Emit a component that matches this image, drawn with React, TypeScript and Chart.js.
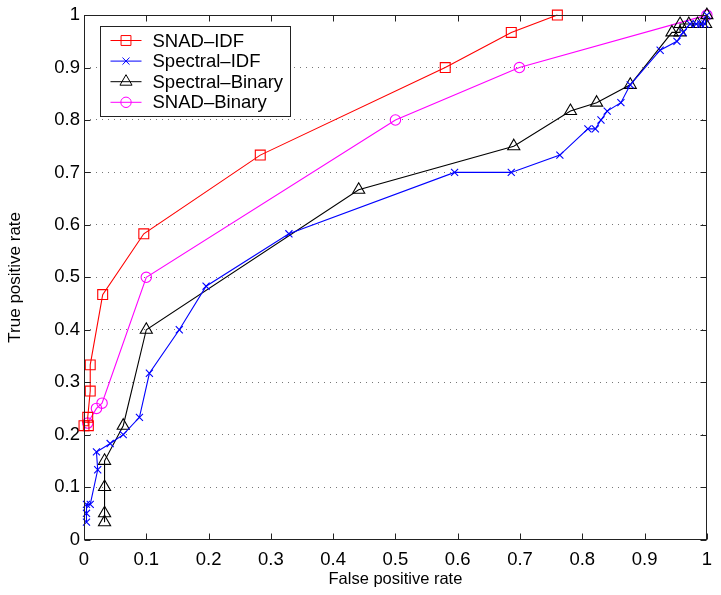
import React, { useEffect, useRef } from "react";
import { Chart, registerables } from "chart.js";
import { drawPoint } from "chart.js/helpers";

Chart.register(...registerables);

const seriesLabels = ["SNAD–IDF", "Spectral–IDF", "Spectral–Binary", "SNAD–Binary"];
const seriesColors = ["#ff0000", "#0000ff", "#000000", "#ff00ff"];
const seriesMarkers = ["rect", "crossRot", "triangle", "circle"];
const markerRadius = [7, 5, 7, 5.2];

const snadIdfX = [0, 0.007, 0.006, 0.01, 0.01, 0.03, 0.096, 0.283, 0.58, 0.686, 0.76];
const snadIdfY = [0.217, 0.217, 0.233, 0.283, 0.333, 0.467, 0.583, 0.733, 0.9, 0.967, 1.0];

const spectralIdfX = [0.004, 0.004, 0.004, 0.01, 0.022, 0.02, 0.042, 0.063, 0.089, 0.105, 0.153, 0.196, 0.329, 0.595, 0.686, 0.764, 0.809, 0.821, 0.83, 0.84, 0.862, 0.877, 0.925, 0.952, 0.962, 0.973, 0.983, 0.99, 0.997, 1];
const spectralIdfY = [0.033, 0.05, 0.067, 0.067, 0.133, 0.167, 0.183, 0.2, 0.233, 0.317, 0.4, 0.483, 0.583, 0.7, 0.7, 0.733, 0.783, 0.783, 0.8, 0.817, 0.833, 0.867, 0.933, 0.95, 0.967, 0.983, 0.983, 0.983, 0.983, 1];

const spectralBinX = [0.033, 0.033, 0.033, 0.033, 0.063, 0.1, 0.441, 0.69, 0.781, 0.823, 0.877, 0.944, 0.957, 0.957, 0.971, 0.985, 0.998, 1];
const spectralBinY = [0.033, 0.05, 0.1, 0.15, 0.217, 0.4, 0.667, 0.75, 0.817, 0.833, 0.867, 0.967, 0.967, 0.983, 0.983, 0.983, 0.983, 1];

const snadBinX = [0.006, 0.02, 0.029, 0.1, 0.5, 0.699, 1];
const snadBinY = [0.222, 0.25, 0.26, 0.5, 0.8, 0.9, 1];

const tickValues = [0, 0.1, 0.2, 0.3, 0.4, 0.5, 0.6, 0.7, 0.8, 0.9, 1];
const tickLabels = ["0", "0.1", "0.2", "0.3", "0.4", "0.5", "0.6", "0.7", "0.8", "0.9", "1"];

const xTitle = "False positive rate";
const yTitle = "True positive rate";

const FONT = "'Liberation Sans', Arial, Helvetica, sans-serif";

const allX = [snadIdfX, spectralIdfX, spectralBinX, snadBinX];
const allY = [snadIdfY, spectralIdfY, spectralBinY, snadBinY];

const framePlugin = {
  id: "matlabFrame",
  afterDatasetsDraw(chart: any) {
    const ctx = chart.ctx as CanvasRenderingContext2D;
    const ca = chart.chartArea;
    const xs = chart.scales.x;
    const ys = chart.scales.y;
    ctx.save();
    const L = Math.round(ca.left) + 0.5;
    const R = Math.round(ca.right) - 0.5;
    const T = Math.round(ca.top) + 0.5;
    const B = Math.round(ca.bottom) - 0.5;
    ctx.strokeStyle = "#222";
    ctx.lineWidth = 1;
    ctx.setLineDash([]);
    ctx.strokeRect(L, T, R - L, B - T);
    const tl = 6;
    ctx.beginPath();
    tickValues.forEach((v) => {
      const px = Math.round(xs.getPixelForValue(v)) + 0.5;
      ctx.moveTo(px, B);
      ctx.lineTo(px, B - tl);
      ctx.moveTo(px, T);
      ctx.lineTo(px, T + tl);
      const py = Math.round(ys.getPixelForValue(v)) + 0.5;
      ctx.moveTo(L, py);
      ctx.lineTo(L + tl, py);
      ctx.moveTo(R, py);
      ctx.lineTo(R - tl, py);
    });
    ctx.stroke();

    // legend
    const lx = Math.round(ca.left + 15.5) + 0.5;
    const ly = Math.round(ca.top + 11) + 0.5;
    const lw = 190;
    const lh = 90;
    ctx.fillStyle = "#fff";
    ctx.fillRect(lx, ly, lw, lh);
    ctx.strokeStyle = "#222";
    ctx.strokeRect(lx, ly, lw, lh);
    ctx.font = `18.5px ${FONT}`;
    ctx.textBaseline = "middle";
    ctx.textAlign = "left";
    seriesLabels.forEach((label, i) => {
      const cy = ly + 14 + i * 20.6;
      ctx.strokeStyle = seriesColors[i];
      ctx.lineWidth = 1;
      ctx.beginPath();
      ctx.moveTo(lx + 10, cy);
      ctx.lineTo(lx + 41, cy);
      ctx.stroke();
      ctx.fillStyle = "rgba(0,0,0,0)";
      drawPoint(ctx, { pointStyle: seriesMarkers[i], radius: markerRadius[i], rotation: 0, borderWidth: 1 } as any, lx + 25.5, cy);
      ctx.fillStyle = "#000";
      ctx.fillText(label, lx + 52, cy + 1);
    });
    ctx.restore();
  },
};

export default function App() {
  const ref = useRef<HTMLCanvasElement | null>(null);
  useEffect(() => {
    if (!ref.current) return;
    const datasets = seriesLabels.map((label, i) => ({
      label,
      data: allX[i].map((x, j) => ({ x, y: allY[i][j] })),
      borderColor: seriesColors[i],
      backgroundColor: "rgba(0,0,0,0)",
      borderWidth: 1.1,
      pointStyle: seriesMarkers[i],
      pointRadius: markerRadius[i],
      pointBorderWidth: 1.1,
      pointBorderColor: seriesColors[i],
      pointBackgroundColor: "rgba(0,0,0,0)",
      tension: 0,
      fill: false,
      clip: false as any,
    }));
    const chart = new Chart(ref.current, {
      type: "line",
      data: { datasets },
      options: {
        responsive: false,
        animation: false,
        devicePixelRatio: 1,
        layout: { padding: { left: 5.5, right: 12.5, top: 13.5, bottom: 6 } },
        plugins: { legend: { display: false }, tooltip: { enabled: false } },
        scales: {
          x: {
            type: "linear",
            min: 0,
            max: 1,
            afterBuildTicks: (s: any) => {
              s.ticks = tickValues.map((v) => ({ value: v }));
            },
            afterFit: (s: any) => {
              s.height = 49.5;
            },
            ticks: {
              callback: (_v: any, i: number) => tickLabels[i],
              padding: 9,
              color: "#000",
              font: { size: 18.5, family: FONT },
              maxRotation: 0,
              autoSkip: false,
            },
            grid: { display: false, drawTicks: false },
            border: { display: false },
            title: {
              display: true,
              text: xTitle,
              color: "#000",
              font: { size: 16.5, family: FONT },
              padding: { top: 0, bottom: 0 },
            },
          },
          y: {
            type: "linear",
            min: 0,
            max: 1,
            afterBuildTicks: (s: any) => {
              s.ticks = tickValues.map((v) => ({ value: v }));
            },
            afterFit: (s: any) => {
              s.width = 78.5;
            },
            ticks: {
              callback: (_v: any, i: number) => tickLabels[i],
              padding: 4,
              color: "#000",
              font: { size: 18.5, family: FONT },
              autoSkip: false,
            },
            grid: { display: true, drawTicks: false, color: "#777", lineWidth: 1 },
            border: { display: false, dash: [1, 5] },
            title: {
              display: true,
              text: yTitle,
              color: "#000",
              font: { size: 17, family: FONT },
              padding: { top: 0, bottom: 0 },
            },
          },
        },
      } as any,
      plugins: [framePlugin],
    });
    return () => chart.destroy();
  }, []);
  return (
    <div style={{ position: "absolute", left: 0, top: 0, width: 721, height: 595, background: "#fff" }}>
      <canvas ref={ref} width={721} height={595} style={{ display: "block" }} />
    </div>
  );
}
